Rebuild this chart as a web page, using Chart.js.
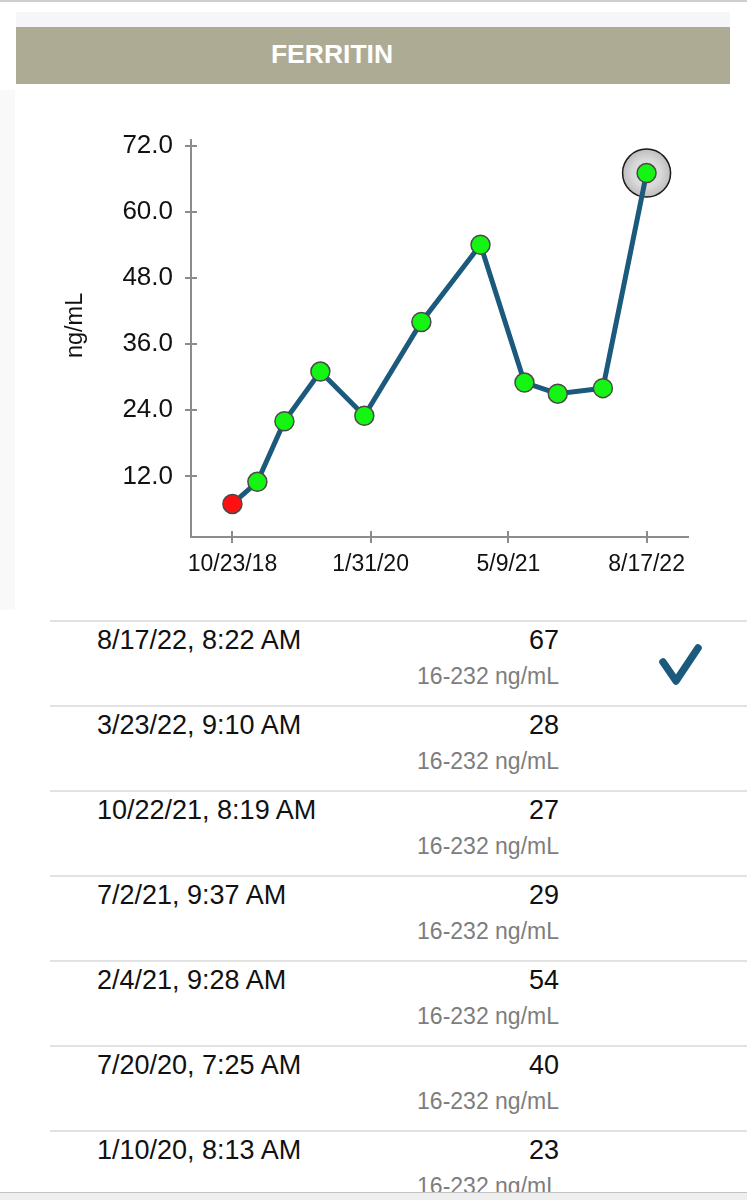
<!DOCTYPE html>
<html>
<head>
<meta charset="utf-8">
<script src="https://cdn.jsdelivr.net/npm/chart.js@4.4.1/dist/chart.umd.min.js"></script>
<style>
  html, body { margin: 0; padding: 0; background: #fff; }
  body { width: 747px; height: 1200px; overflow: hidden; position: relative;
         font-family: "Liberation Sans", Arial, Helvetica, sans-serif; }
  .topline { position: absolute; left: 0; top: 0; width: 747px; height: 2px; background: #cfcfcf; }
  .strip { position: absolute; left: 16px; top: 12px; width: 714px; height: 15px; background: #f6f5f8; }
  .sidebar { position: absolute; left: 0; top: 90px; width: 15px; height: 520px; background: #f9f9f9; }
  .header { position: absolute; left: 16px; top: 27px; width: 632px; padding-right: 82px; height: 57px;
            background: #aeab95; color: #fff; font-weight: bold; font-size: 26.5px;
            line-height: 55px; text-align: center; }
  #chartBox { position: absolute; left: 0; top: 85px; width: 747px; height: 525px; }
  .row { position: absolute; left: 0; width: 747px; height: 85px; }
  .row .sep { position: absolute; left: 50px; top: 0; width: 697px; height: 2px; background: #e2e2e2; }
  .row .when { position: absolute; left: 97px; top: 5px; font-size: 27px; line-height: 31px; color: #111; }
  .row .val { position: absolute; right: 188px; top: 5px; font-size: 27px; line-height: 31px; color: #111; }
  .row .range { position: absolute; right: 188px; top: 42px; font-size: 23px; line-height: 28px; color: #7d7d7d; }
  .row svg { position: absolute; left: 655px; top: 20px; }
  .dock { position: absolute; left: 0; top: 1192px; width: 747px; height: 8px; background: #eeeeee;
          border-top: 1px solid #c4c4c4; }
</style>
</head>
<body>
<div class="topline"></div>
<div class="strip"></div>
<div class="sidebar"></div>
<div class="header">FERRITIN</div>
<div id="chartBox"><canvas id="ferritinChart" width="747" height="525"></canvas></div>
<div id="results"></div>
<div class="dock"></div>

<script>
// readings (dates of the last seven come from the table)
const readingDates = ['2018-10-23', '2019-01-15', '2019-04-16', '2019-08-15', '2020-01-10',
                      '2020-07-20', '2021-02-04', '2021-07-02', '2021-10-22', '2022-03-23', '2022-08-17'];
const ferritinValues = [7, 11, 22, 31, 23, 40, 54, 29, 27, 28, 67];
const outOfRange = [true, false, false, false, false, false, false, false, false, false, false];

const yTickValues = [12, 24, 36, 48, 60, 72];
const xTickDates = ['2018-10-23', '2020-01-31', '2021-05-09', '2022-08-17'];
const xTickLabels = ['10/23/18', '1/31/20', '5/9/21', '8/17/22'];

// table below the chart, newest first
const tableLabels = ['8/17/22, 8:22 AM', '3/23/22, 9:10 AM', '10/22/21, 8:19 AM', '7/2/21, 9:37 AM',
                     '2/4/21, 9:28 AM', '7/20/20, 7:25 AM', '1/10/20, 8:13 AM'];
const referenceRange = '16-232 ng/mL';

const lineColor = '#1b5a7c';
const axisColor = '#8c8c8c';

function toDay(s) {
    const p = s.split('-').map(Number);
    return Date.UTC(p[0], p[1] - 1, p[2]) / 86400000;
}

const points = readingDates.map((d, i) => ({ x: toDay(d), y: ferritinValues[i] }));
const firstDay = points[0].x;
const lastDay = points[points.length - 1].x;
const span = lastDay - firstDay;
const lastPoint = points[points.length - 1];

// draws the half of each tick mark that sits inside the plot
const innerTicks = {
    id: 'innerTicks',
    afterDraw(chart) {
        const { ctx, chartArea, scales } = chart;
        ctx.save();
        ctx.strokeStyle = axisColor;
        ctx.lineWidth = 2;
        ctx.beginPath();
        scales.x.ticks.forEach(t => {
            const px = Math.round(scales.x.getPixelForValue(t.value));
            ctx.moveTo(px, chartArea.bottom);
            ctx.lineTo(px, chartArea.bottom - 6);
        });
        scales.y.ticks.forEach(t => {
            const py = Math.round(scales.y.getPixelForValue(t.value));
            ctx.moveTo(chartArea.left, py);
            ctx.lineTo(chartArea.left + 6, py);
        });
        ctx.stroke();
        ctx.restore();
    }
};

const ctx = document.getElementById('ferritinChart').getContext('2d');
const ferritinChart = new Chart(ctx, {
    type: 'line',
    data: {
        datasets: [{
            data: points,
            order: 1,
            borderColor: lineColor,
            borderWidth: 5,
            tension: 0,
            pointRadius: 9.5,
            pointBorderWidth: 1.5,
            pointBorderColor: '#4a4a4a',
            pointBackgroundColor: (c) => outOfRange[c.dataIndex] ? '#ff1010' : '#14f514'
        }, {
            // ring behind the selected reading
            data: [lastPoint],
            order: 2,
            showLine: false,
            pointRadius: 24,
            pointBorderWidth: 1.5,
            pointBorderColor: '#1a1a1a',
            pointBackgroundColor: (c) => {
                const xs = c.chart.scales.x, ys = c.chart.scales.y;
                if (!xs || !ys || !c.raw) return '#d2d2d2';
                const px = xs.getPixelForValue(c.raw.x), py = ys.getPixelForValue(c.raw.y);
                if (!isFinite(px) || !isFinite(py)) return '#d2d2d2';
                const g = c.chart.ctx.createRadialGradient(px, py, 0, px, py, 24);
                g.addColorStop(0, '#e6e6e6');
                g.addColorStop(0.6, '#d8d8d8');
                g.addColorStop(1, '#bdbdbd');
                return g;
            }
        }]
    },
    options: {
        responsive: false,
        animation: false,
        layout: { padding: { left: 61, right: 59, top: 55, bottom: 0 } },
        plugins: { legend: { display: false }, tooltip: { enabled: false } },
        scales: {
            x: {
                type: 'linear',
                min: firstDay - span * 0.1,
                max: lastDay + span * 0.1,
                afterBuildTicks: (scale) => { scale.ticks = xTickDates.map(d => ({ value: toDay(d) })); },
                afterFit: (scale) => { scale.height = 73; },
                grid: { drawOnChartArea: false, color: axisColor, lineWidth: 2, tickLength: 6 },
                border: { color: axisColor, width: 2 },
                ticks: {
                    color: '#111',
                    padding: 8,
                    maxRotation: 0,
                    font: { family: '"Liberation Sans", Arial, sans-serif', size: 23 },
                    callback: (v) => {
                        const i = xTickDates.findIndex(d => toDay(d) === v);
                        return i >= 0 ? xTickLabels[i] : '';
                    }
                }
            },
            y: {
                min: 1,
                max: 73,
                afterBuildTicks: (scale) => { scale.ticks = yTickValues.map(v => ({ value: v })); },
                afterFit: (scale) => { scale.width = 130; },
                grid: { drawOnChartArea: false, color: axisColor, lineWidth: 2, tickLength: 6 },
                border: { color: axisColor, width: 2 },
                title: {
                    display: true,
                    // leading spaces nudge the rotated title up a little
                    text: '    ng/mL',
                    color: '#111',
                    padding: { top: 0, bottom: 0 },
                    font: { family: '"Liberation Sans", Arial, sans-serif', size: 23.5 }
                },
                ticks: {
                    color: '#111',
                    padding: 12,
                    font: { family: '"Liberation Sans", Arial, sans-serif', size: 26 },
                    callback: (v) => Number(v).toFixed(1)
                }
            }
        }
    },
    plugins: [innerTicks]
});

// result rows under the chart
const results = document.getElementById('results');
tableLabels.forEach((label, i) => {
    const value = ferritinValues[ferritinValues.length - 1 - i];
    const row = document.createElement('div');
    row.className = 'row';
    row.style.top = (620 + i * 85) + 'px';
    let html = '<div class="sep"></div>' +
        '<div class="when">' + label + '</div>' +
        '<div class="val">' + value + '</div>' +
        '<div class="range">' + referenceRange + '</div>';
    if (i === 0) {
        html += '<svg width="50" height="50" viewBox="0 0 50 50">' +
            '<polyline points="8,22 21,41 43,8" fill="none" stroke="' + lineColor +
            '" stroke-width="7.5" stroke-linecap="round" stroke-linejoin="round"/></svg>';
    }
    row.innerHTML = html;
    results.appendChild(row);
});
</script>
</body>
</html>
